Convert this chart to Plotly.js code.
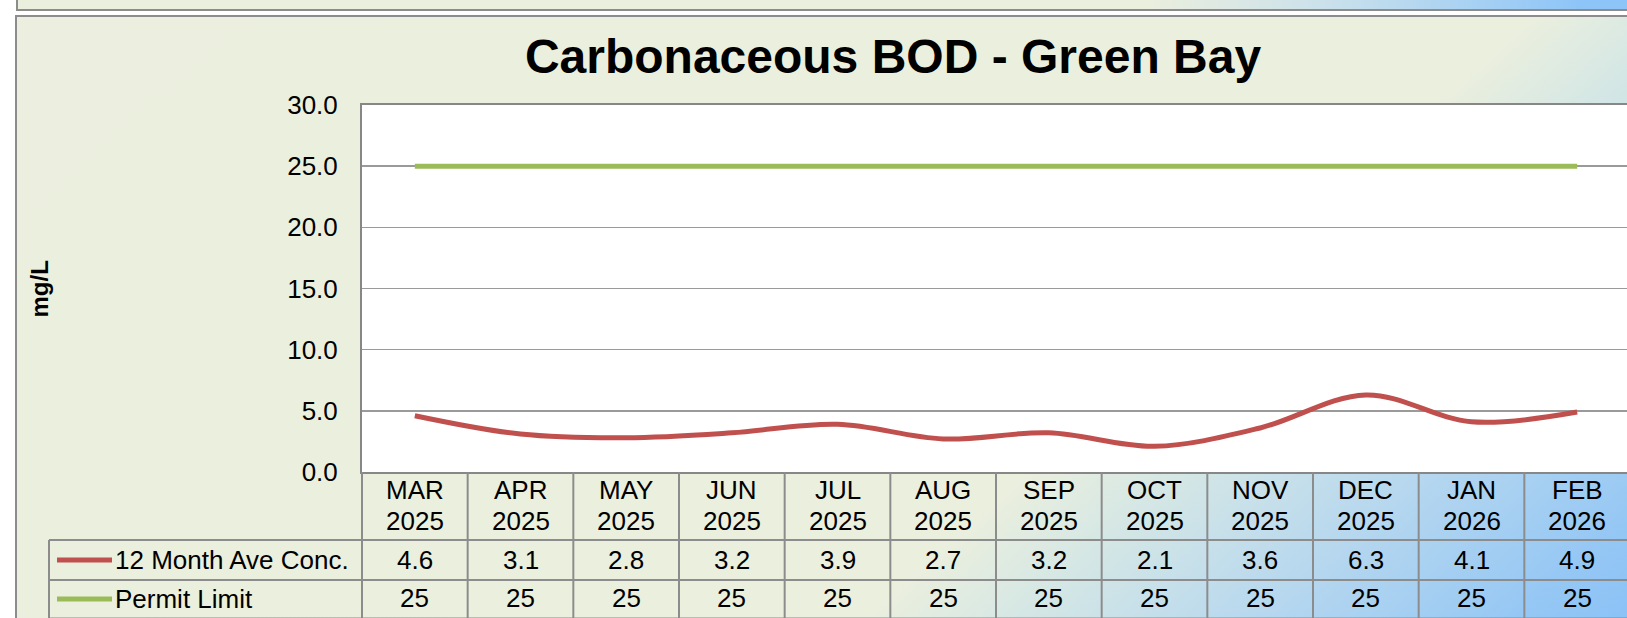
<!DOCTYPE html>
<html><head><meta charset="utf-8">
<script src="https://cdn.plot.ly/plotly-3.0.1.min.js"></script>
<style>
html,body{margin:0;padding:0;background:#fff;overflow:hidden;width:1627px;height:618px;}
#strip{position:absolute;left:16px;top:-600px;width:1660px;height:611px;box-sizing:border-box;border:2px solid #8c8c8c;background:linear-gradient(to right,#EBEFDE 0px,#EBEFDE 1130px,#C8E0EC 1320px,#8EC5F8 1560px);}
#frame{position:absolute;left:15px;top:15px;width:1622px;height:613px;box-sizing:border-box;border:2px solid #8c8c8c;background:linear-gradient(138deg,#ECEFDF 0%,#EBEFDE 66%,#D7E8E4 72%,#BAD9EE 82%,#97C8F4 94%,#89C1F7 100%);}
#chart{position:absolute;left:0;top:0;width:1640px;height:618px;}
</style></head>
<body>
<div id="strip"></div><div id="frame"></div><div id="chart"></div>
<script>
// ---- data ----
const months = ['MAR','APR','MAY','JUN','JUL','AUG','SEP','OCT','NOV','DEC','JAN','FEB'];
const years = ['2025','2025','2025','2025','2025','2025','2025','2025','2025','2025','2026','2026'];
const categories = months.map((m, i) => m + ' ' + years[i]);
const aveConc = [4.6, 3.1, 2.8, 3.2, 3.9, 2.7, 3.2, 2.1, 3.6, 6.3, 4.1, 4.9];
const permitLimit = [25, 25, 25, 25, 25, 25, 25, 25, 25, 25, 25, 25];
const seriesNames = ['12 Month Ave Conc.', 'Permit Limit'];
const yTicks = [0, 5, 10, 15, 20, 25, 30];
const titleText = 'Carbonaceous BOD - Green Bay';
const yTitle = 'mg/L';

// ---- layout helpers ----
const W = 1640, H = 618, ML = 362, MR = 10, MT = 105, MB = 146;
const PW = W - ML - MR, PH = H - MT - MB;
const py = p => (H - MB - p) / PH;
const px = p => (p - ML) / PW;
const FONT = 'Liberation Sans, Arial, sans-serif';
const GRAY = '#8c8c8c';
const txtFont = {family: FONT, size: 26, color: '#000'};

const traces = [
  {x: categories, y: permitLimit, name: seriesNames[1], type: 'scatter', mode: 'lines',
   line: {color: '#9BBB59', width: 5, shape: 'spline', smoothing: 1}, hoverinfo: 'skip'},
  {x: categories, y: aveConc, name: seriesNames[0], type: 'scatter', mode: 'lines',
   line: {color: '#C0504D', width: 5, shape: 'spline', smoothing: 1}, hoverinfo: 'skip'}
];

const annotations = [];
const shapes = [];
categories.forEach((c, i) => {
  annotations.push({x: c, xref: 'x', y: py(489.7), yref: 'paper', text: months[i], showarrow: false,
    xanchor: 'center', yanchor: 'middle', font: txtFont});
  annotations.push({x: c, xref: 'x', y: py(520.7), yref: 'paper', text: years[i], showarrow: false,
    xanchor: 'center', yanchor: 'middle', font: txtFont});
  annotations.push({x: c, xref: 'x', y: py(559.5), yref: 'paper', text: aveConc[i].toFixed(1), showarrow: false,
    xanchor: 'center', yanchor: 'middle', font: txtFont});
  annotations.push({x: c, xref: 'x', y: py(598), yref: 'paper', text: String(permitLimit[i]), showarrow: false,
    xanchor: 'center', yanchor: 'middle', font: txtFont});
  if (i > 0) {
    shapes.push({type: 'line', xref: 'x', yref: 'paper', x0: i - 0.5, x1: i - 0.5, y0: 0, y1: py(620),
      line: {color: GRAY, width: 2}});
  }
});
// table left edge and legend column
shapes.push({type: 'line', xref: 'paper', yref: 'paper', x0: 0, x1: 0, y0: 0, y1: py(620), line: {color: GRAY, width: 2}});
shapes.push({type: 'line', xref: 'paper', yref: 'paper', x0: px(49), x1: px(49), y0: py(540), y1: py(620), line: {color: GRAY, width: 2}});
[540, 580, 618.5].forEach(p => {
  shapes.push({type: 'line', xref: 'paper', yref: 'paper', x0: px(49), x1: 1.02, y0: py(p), y1: py(p), line: {color: GRAY, width: 2}});
});
// legend keys
const keyColors = ['#C0504D', '#9BBB59'];
const rowCenters = [560, 599];
seriesNames.forEach((n, k) => {
  shapes.push({type: 'line', xref: 'paper', yref: 'paper', x0: px(57), x1: px(112), y0: py(rowCenters[k]), y1: py(rowCenters[k]),
    line: {color: keyColors[k], width: 5}});
  annotations.push({x: px(113), xref: 'paper', y: py(rowCenters[k] - 0.5), yref: 'paper', text: n, showarrow: false,
    xanchor: 'left', yanchor: 'middle', font: txtFont});
});
// y axis title
annotations.push({x: px(39), xref: 'paper', y: 0.5, yref: 'paper', text: '<b>' + yTitle + '</b>', textangle: -90,
  showarrow: false, xanchor: 'center', yanchor: 'middle', font: {family: FONT, size: 24, color: '#000'}});

const layout = {
  width: W, height: H,
  margin: {l: ML, r: MR, t: MT, b: MB, pad: 0},
  paper_bgcolor: 'rgba(0,0,0,0)', plot_bgcolor: '#fff',
  showlegend: false,
  title: {text: '<b>' + titleText + '</b>', font: {family: FONT, size: 48, color: '#000'},
    x: 893 / W, xanchor: 'center', xref: 'container', y: 1 - 56 / H, yanchor: 'middle', yref: 'container'},
  xaxis: {type: 'category', range: [-0.5, 11.5], showticklabels: false, showgrid: false, zeroline: false,
    showline: true, mirror: true, linecolor: '#878787', linewidth: 2, ticks: '', fixedrange: true},
  yaxis: {range: [0, 30], tickvals: yTicks, tickformat: '.1f', showgrid: true, gridcolor: '#9a9a9a', gridwidth: 1.5,
    zeroline: false, showline: true, linecolor: '#878787', linewidth: 2,
    ticks: 'outside', ticklen: 17, tickcolor: 'rgba(0,0,0,0)', tickfont: txtFont, fixedrange: true},
  annotations: annotations,
  shapes: shapes
};
Plotly.newPlot('chart', traces, layout, {staticPlot: true, displayModeBar: false});
</script>
</body></html>
